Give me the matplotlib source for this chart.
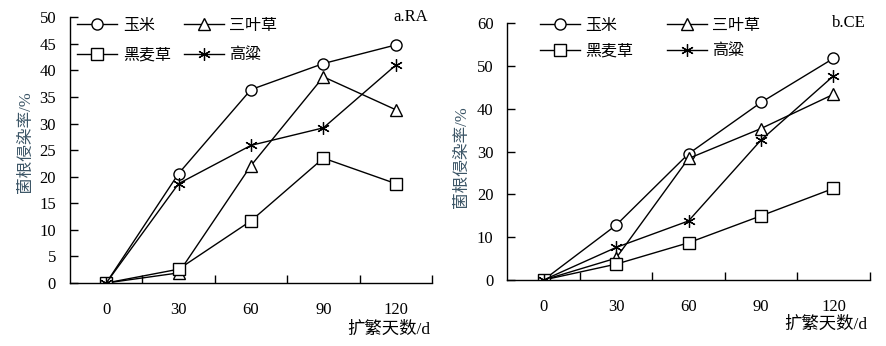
import matplotlib
matplotlib.use("Agg")
import matplotlib.pyplot as plt
from matplotlib.ticker import FixedLocator

plt.rcParams['font.family'] = ['Liberation Serif', 'Noto Sans CJK SC']
plt.rcParams['axes.unicode_minus'] = False

days = ['0', '30', '60', '90', '120']
series_names = ['玉米', '三叶草', '黑麦草', '高粱']

ra_corn = [0, 20.6, 36.4, 41.3, 44.8]
ra_clover = [0, 1.9, 22.1, 38.8, 32.6]
ra_rye = [0, 2.6, 11.7, 23.5, 18.7]
ra_sorghum = [0, 18.7, 25.9, 29.2, 41.0]

ce_corn = [0, 12.8, 29.5, 41.5, 51.8]
ce_clover = [0, 5.1, 28.4, 35.4, 43.4]
ce_rye = [0, 3.7, 8.7, 15.0, 21.4]
ce_sorghum = [0, 7.6, 13.8, 32.7, 47.7]

markers = ['o', '^', 's', (6, 2, 0)]
ylabel_color = '#3b5566'

fig = plt.figure(figsize=(8.86, 3.46), dpi=100)
ax1 = fig.add_axes([70/886, 1-283/346, 362/886, (283-17.3)/346])
ax2 = fig.add_axes([507.3/886, 1-280/346, 362.4/886, (280-23.3)/346])

def draw(ax, data, ymax, ystep, tag, leg_anchor, colsp, labsp, ylab_xy):
    xs = [i + 0.5 for i in range(len(days))]
    handles = []
    for name, vals, m in zip(series_names, data, markers):
        if m == (6, 2, 0):
            ms, mew = 9, 0.9
        else:
            ms, mew = 8, 1.0
        h, = ax.plot(xs, vals, color='black', lw=1.0, marker=m, ms=ms,
                     mfc='white', mec='black', mew=mew, label=name)
        handles.append(h)
    ax.set_xlim(0, 5)
    ax.set_ylim(0, ymax)
    ax.spines['top'].set_visible(False)
    ax.spines['right'].set_visible(False)
    ax.spines['left'].set_linewidth(1.0)
    ax.spines['bottom'].set_linewidth(1.0)
    ax.xaxis.set_major_locator(FixedLocator([1, 2, 3, 4, 5]))
    ax.xaxis.set_major_formatter(plt.NullFormatter())
    ax.xaxis.set_minor_locator(FixedLocator(xs))
    ax.set_xticklabels(days, minor=True)
    ax.tick_params(axis='x', which='major', direction='in', length=6, width=1.0)
    ax.tick_params(axis='x', which='minor', length=0, pad=14, labelsize=12)
    ax.set_yticks(range(0, ymax + 1, ystep))
    ax.tick_params(axis='y', direction='in', length=6, width=1.0, labelsize=12, pad=10)
    ax.set_ylabel('菌根侵染率/%', color=ylabel_color, fontsize=12)
    ax.yaxis.set_label_coords(*ylab_xy)
    ax.text(0.99, 1.0, tag, transform=ax.transAxes, ha='right', va='center', fontsize=12)
    ax.text(0.995, -0.175, '扩繁天数/d', transform=ax.transAxes, ha='right', va='center',
            fontsize=12.5)
    order = [handles[0], handles[2], handles[1], handles[3]]
    ax.legend(order, [h.get_label() for h in order], ncol=2, frameon=False,
              loc='upper left', bbox_to_anchor=leg_anchor, handlelength=2.5,
              columnspacing=colsp, handletextpad=0.35, labelspacing=labsp, fontsize=11.5,
              borderaxespad=0)

draw(ax1, [ra_corn, ra_clover, ra_rye, ra_sorghum], 50, 5, 'a.RA', (0.003, 1.023), 0.8, 0.85,
     (-36/362, 0.53))
draw(ax2, [ce_corn, ce_clover, ce_rye, ce_sorghum], 60, 10, 'b.CE', (0.072, 1.047), 2.1, 0.6,
     (-37/362.4, 0.477))

fig.savefig('out.png', dpi=100)
